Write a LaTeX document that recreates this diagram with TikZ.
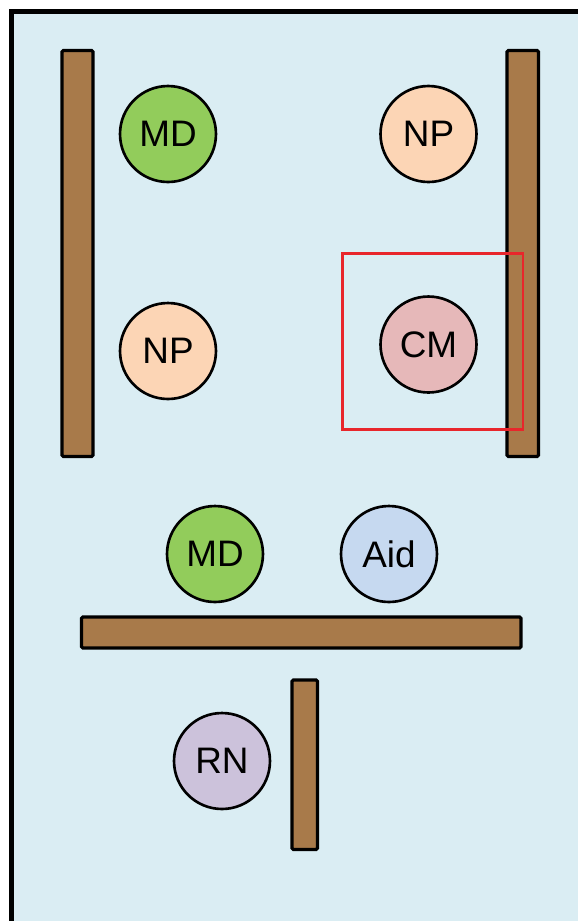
\documentclass[tikz,border=0pt]{standalone}
\usepackage{fontspec}
\setmainfont{Liberation Sans}

\definecolor{roomblue}{HTML}{DAEDF3}
\definecolor{wallbrown}{HTML}{A87A4A}
\definecolor{mdgreen}{HTML}{92CC5B}
\definecolor{nppeach}{HTML}{FCD5B5}
\definecolor{cmpink}{HTML}{E6B8B9}
\definecolor{aidblue}{HTML}{C6D9F0}
\definecolor{rnlilac}{HTML}{CCC2DB}
\definecolor{markred}{HTML}{E8262B}

\tikzset{
  wall/.style={draw=black, fill=wallbrown, line width=1.8pt, rounded corners=0.8pt},
  staff/.style={circle, draw=black, line width=1.5pt, minimum size=1.92cm, inner sep=0pt,
    font=\fontsize{21}{25}\selectfont},
}

\begin{document}
\begin{tikzpicture}[x=0.02cm, y=-0.02cm]
\useasboundingbox (0,0) rectangle (578,921);
\clip (0,0) rectangle (578,921);

% room
\draw[line width=2.55pt, fill=roomblue] (11.7,11.7) rectangle (620,960);

% walls
\draw[wall] (62,50.5) rectangle (93,456.5);
\draw[wall] (507,50.5) rectangle (538.5,456.5);
\draw[wall] (81.5,617) rectangle (521,648);
\draw[wall] (292,680) rectangle (317.5,849.5);

% people
\node[staff, fill=mdgreen] (md1) at (168,134) {MD};
\node[staff, fill=nppeach] (np1) at (428.5,134) {NP};
\node[staff, fill=nppeach] (np2) at (168,351) {NP};
\node[staff, fill=cmpink] (cm) at (428.5,344.5) {CM};
\node[staff, fill=mdgreen] (md2) at (215,554) {MD};
\node[staff, fill=aidblue] (aid) at (389,554) {Aid};
\node[staff, fill=rnlilac] (rn) at (222,761) {RN};

% highlight
\draw[markred, line width=1.2pt] (342.5,253.5) rectangle (523,429.5);
\end{tikzpicture}
\end{document}
